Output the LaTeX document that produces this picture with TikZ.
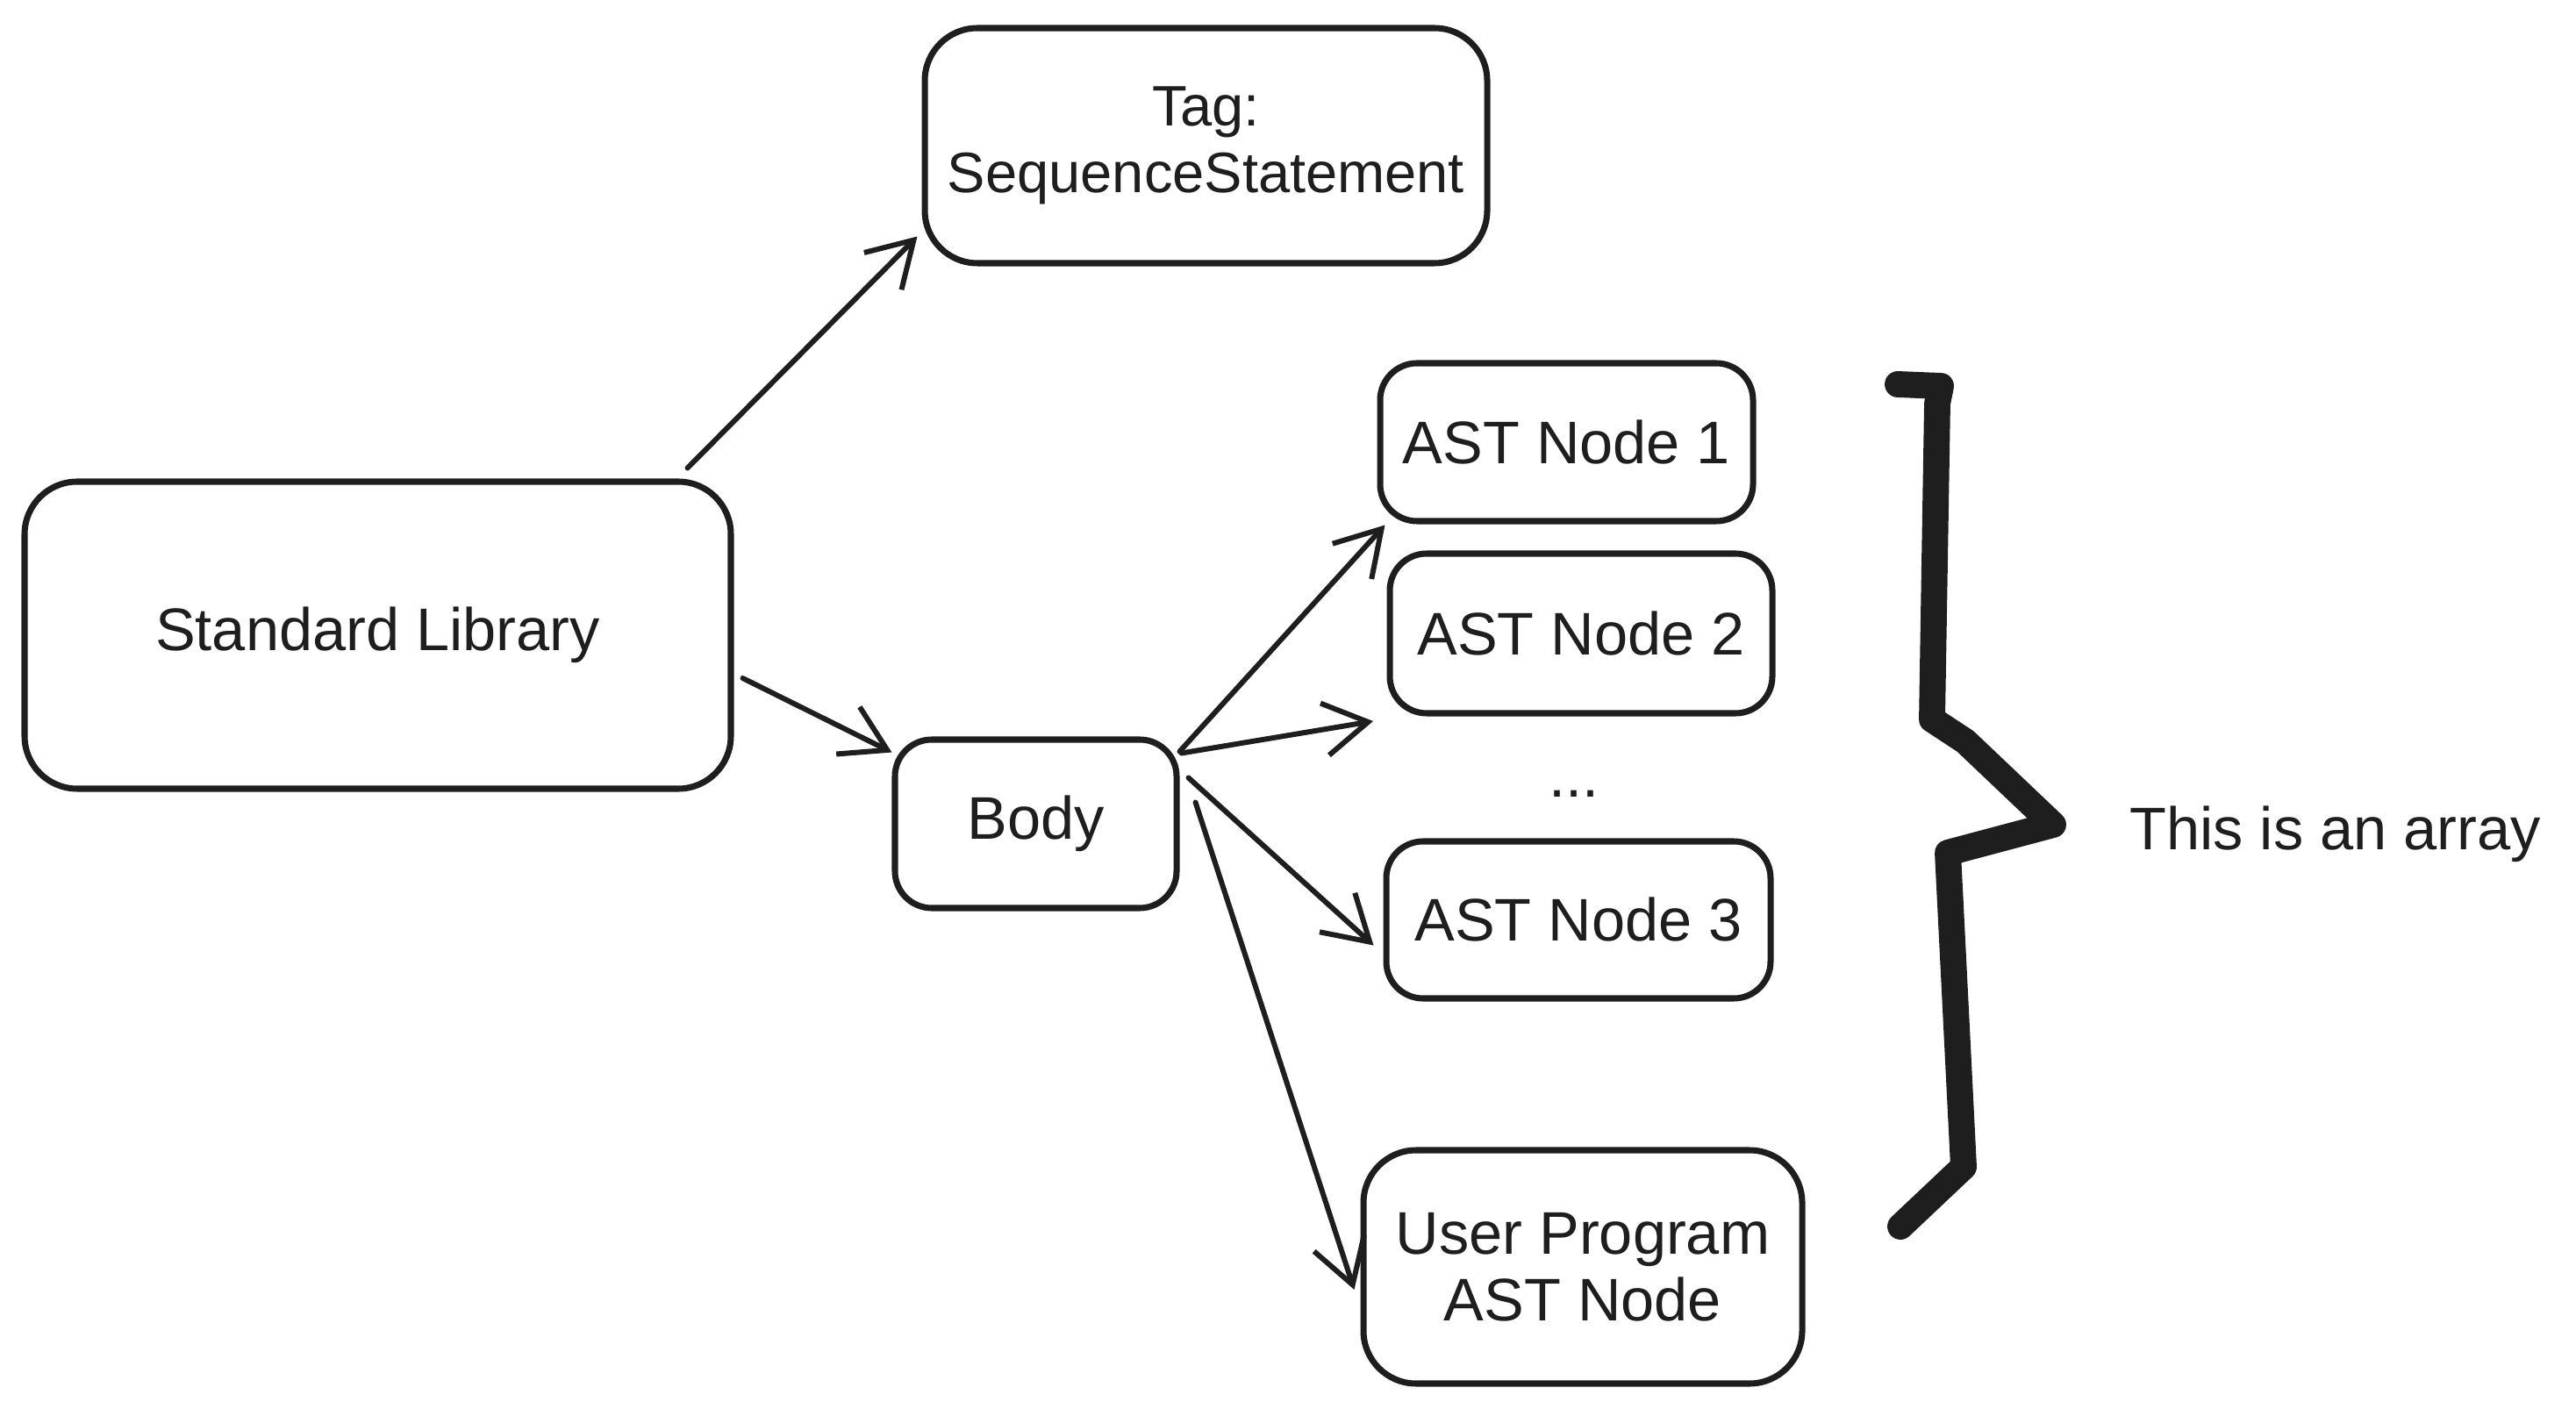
\documentclass[tikz,border=0pt]{standalone}
\usepackage{fontspec}
\setmainfont{Liberation Sans}
\usetikzlibrary{arrows.meta,calc}
\definecolor{ink}{HTML}{1E1E1E}
\begin{document}
\begin{tikzpicture}[x=1cm,y=-1cm,
  txt/.style={text=ink, font=\fontsize{19.5}{21.5}\selectfont},
  box/.style={txt, draw=ink, line width=2pt, rounded corners=0.42cm, align=center, inner sep=0pt},
  bigbox/.style={box, rounded corners=0.6cm},
  arr/.style={draw=ink, line width=1.7pt, line cap=round,
    -{Straight Barb[length=0.5cm,width=0.6cm,line width=1.7pt]}},
  brace/.style={draw=ink, line width=8.5pt, line cap=round, line join=round}]
\useasboundingbox (0,0) rectangle (29.36,16.06);

\node[bigbox, minimum width=6.41cm, minimum height=2.68cm, font=\fontsize{18.5}{21.5}\selectfont] (tag) at (13.745,1.66) {Tag:\\SequenceStatement};
\node[bigbox, minimum width=8.05cm, minimum height=3.50cm] (std) at (4.305,7.24) {Standard Library};
\node[box, minimum width=3.21cm, minimum height=1.92cm] (body) at (11.805,9.39) {Body};
\node[box, minimum width=4.25cm, minimum height=1.80cm] (ast1) at (17.855,5.04) {AST Node 1};
\node[box, minimum width=4.36cm, minimum height=1.82cm] (ast2) at (18.02,7.22) {AST Node 2};
\node[txt] (dots) at (17.94,9.05) {...};
\node[box, minimum width=4.38cm, minimum height=1.79cm] (ast3) at (17.99,10.485) {AST Node 3};
\node[bigbox, minimum width=5.0cm, minimum height=2.66cm] (user) at (18.04,14.44) {User Program\\AST Node};
\node[txt, anchor=west] (note) at (24.15,9.51) {This is an array};

\coordinate (gap) at (15.65,8.22);

\draw[arr] ($(std.north east)+(-0.53,-0.12)$) -- ($(tag.south west)+(-0.05,-0.34)$);
\draw[arr] ($(std.east)+(0.10,0.49)$) -- ($(body.north west)+(0,0.18)$);
\draw[arr] ($(body.north east)+(0,0.17)$) -- ($(ast1.south west)+(0.09,0.01)$);
\draw[arr] ($(body.north east)+(0.02,0.19)$) -- (gap);
\draw[arr] ($(body.north east)+(0.10,0.47)$) -- ($(ast3.west)+(-0.11,0.29)$);
\draw[arr] ($(body.north east)+(0.18,0.75)$) -- ($(user.west)+(-0.07,0.26)$);

\draw[brace] (21.63,4.38) -- (22.12,4.40) -- (22.08,4.60) -- (22.02,8.20)
  -- (22.40,8.45) -- (23.40,9.40) -- (22.20,9.72) -- (22.38,13.30) -- (21.66,13.98);
\end{tikzpicture}
\end{document}
